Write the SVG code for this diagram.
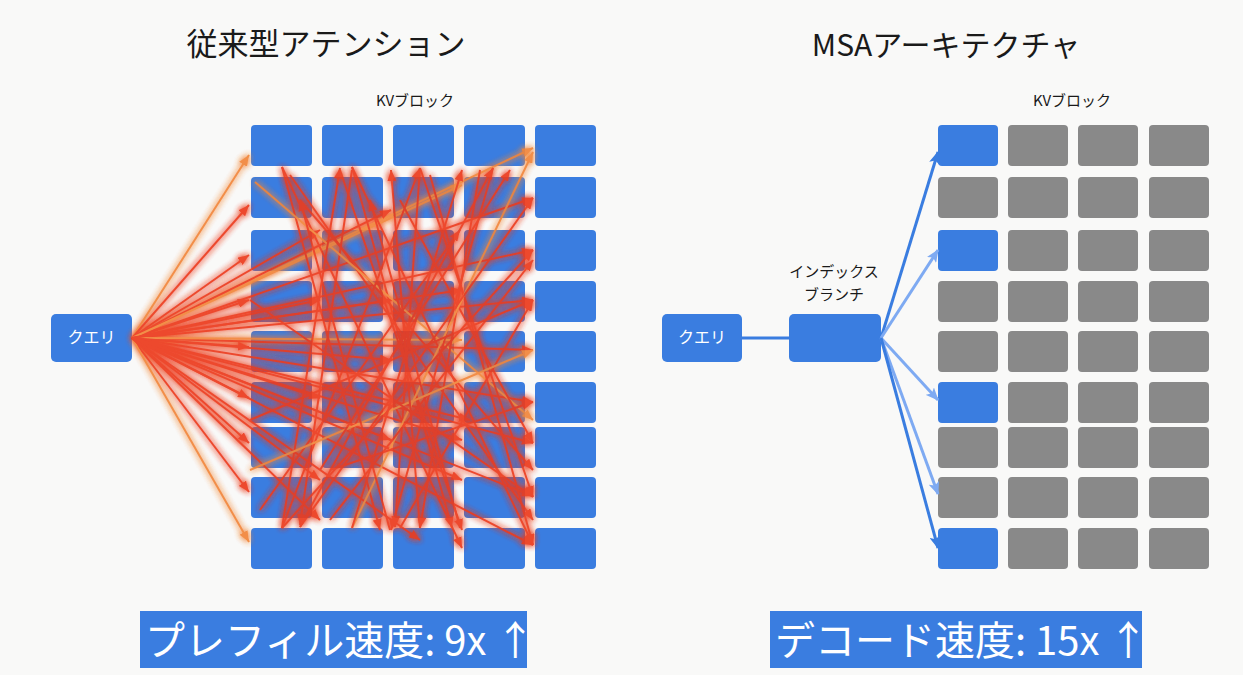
<svg xmlns="http://www.w3.org/2000/svg" width="1243" height="675" viewBox="0 0 1243 675">
<style>
.t{font-family:"Noto Sans CJK JP","Noto Sans",sans-serif;fill:#1a1a1a}
.w{font-family:"Noto Sans CJK JP","Noto Sans",sans-serif;fill:#ffffff}
.b{fill:#3a7de0}
.g{fill:#898989}
.r{stroke:#ec3b1f;stroke-width:2;fill:none;marker-end:url(#ar)}
.o{stroke:#f2863a;stroke-width:2;fill:none;marker-end:url(#ao)}
.bd{stroke:#3a7de0;stroke-width:3;fill:none;marker-end:url(#abd)}
.bl{stroke:#7eaaf2;stroke-width:3;fill:none;marker-end:url(#abl)}
</style>
<defs>
<marker id="ar" markerUnits="userSpaceOnUse" markerWidth="11" markerHeight="9" refX="11" refY="4.5" orient="auto"><path d="M0,0 L11,4.5 L0,9 z" fill="#ec3b1f"/></marker>
<marker id="ao" markerUnits="userSpaceOnUse" markerWidth="11" markerHeight="9" refX="11" refY="4.5" orient="auto"><path d="M0,0 L11,4.5 L0,9 z" fill="#f2863a"/></marker>
<marker id="abd" markerUnits="userSpaceOnUse" markerWidth="13" markerHeight="11" refX="12" refY="5.5" orient="auto"><path d="M0,0 L13,5.5 L0,11 L3,5.5 z" fill="#3a7de0"/></marker>
<marker id="abl" markerUnits="userSpaceOnUse" markerWidth="13" markerHeight="11" refX="12" refY="5.5" orient="auto"><path d="M0,0 L13,5.5 L0,11 L3,5.5 z" fill="#7eaaf2"/></marker>
<filter id="glow" x="-10%" y="-10%" width="120%" height="120%"><feGaussianBlur in="SourceGraphic" stdDeviation="3" result="bl"/><feMerge><feMergeNode in="bl"/><feMergeNode in="bl"/><feMergeNode in="SourceGraphic"/></feMerge></filter>
</defs>
<rect width="1243" height="675" fill="#f9f9f8"/>

<text class="t" x="326" y="55" font-size="31" text-anchor="middle">従来型アテンション</text>
<text class="t" x="946" y="56" font-size="30" text-anchor="middle">MSAアーキテクチャ</text>
<text class="t" x="415" y="106" font-size="15" text-anchor="middle">KVブロック</text>
<text class="t" x="1072" y="106" font-size="15" text-anchor="middle">KVブロック</text>

<g id="left-query"><rect class="b" x="51" y="314" width="81" height="48" rx="5"/><text class="w" x="91.5" y="343" font-size="16" text-anchor="middle">クエリ</text></g>

<g id="left-kv">
<g id="l-r1-c1"><rect class="b" x="251" y="125" width="61" height="41" rx="4"/></g>
<g id="l-r1-c2"><rect class="b" x="322" y="125" width="61" height="41" rx="4"/></g>
<g id="l-r1-c3"><rect class="b" x="393" y="125" width="61" height="41" rx="4"/></g>
<g id="l-r1-c4"><rect class="b" x="464" y="125" width="61" height="41" rx="4"/></g>
<g id="l-r1-c5"><rect class="b" x="535" y="125" width="61" height="41" rx="4"/></g>
<g id="l-r2-c1"><rect class="b" x="251" y="177" width="61" height="41" rx="4"/></g>
<g id="l-r2-c2"><rect class="b" x="322" y="177" width="61" height="41" rx="4"/></g>
<g id="l-r2-c3"><rect class="b" x="393" y="177" width="61" height="41" rx="4"/></g>
<g id="l-r2-c4"><rect class="b" x="464" y="177" width="61" height="41" rx="4"/></g>
<g id="l-r2-c5"><rect class="b" x="535" y="177" width="61" height="41" rx="4"/></g>
<g id="l-r3-c1"><rect class="b" x="251" y="230" width="61" height="41" rx="4"/></g>
<g id="l-r3-c2"><rect class="b" x="322" y="230" width="61" height="41" rx="4"/></g>
<g id="l-r3-c3"><rect class="b" x="393" y="230" width="61" height="41" rx="4"/></g>
<g id="l-r3-c4"><rect class="b" x="464" y="230" width="61" height="41" rx="4"/></g>
<g id="l-r3-c5"><rect class="b" x="535" y="230" width="61" height="41" rx="4"/></g>
<g id="l-r4-c1"><rect class="b" x="251" y="281" width="61" height="41" rx="4"/></g>
<g id="l-r4-c2"><rect class="b" x="322" y="281" width="61" height="41" rx="4"/></g>
<g id="l-r4-c3"><rect class="b" x="393" y="281" width="61" height="41" rx="4"/></g>
<g id="l-r4-c4"><rect class="b" x="464" y="281" width="61" height="41" rx="4"/></g>
<g id="l-r4-c5"><rect class="b" x="535" y="281" width="61" height="41" rx="4"/></g>
<g id="l-r5-c1"><rect class="b" x="251" y="331" width="61" height="41" rx="4"/></g>
<g id="l-r5-c2"><rect class="b" x="322" y="331" width="61" height="41" rx="4"/></g>
<g id="l-r5-c3"><rect class="b" x="393" y="331" width="61" height="41" rx="4"/></g>
<g id="l-r5-c4"><rect class="b" x="464" y="331" width="61" height="41" rx="4"/></g>
<g id="l-r5-c5"><rect class="b" x="535" y="331" width="61" height="41" rx="4"/></g>
<g id="l-r6-c1"><rect class="b" x="251" y="382" width="61" height="41" rx="4"/></g>
<g id="l-r6-c2"><rect class="b" x="322" y="382" width="61" height="41" rx="4"/></g>
<g id="l-r6-c3"><rect class="b" x="393" y="382" width="61" height="41" rx="4"/></g>
<g id="l-r6-c4"><rect class="b" x="464" y="382" width="61" height="41" rx="4"/></g>
<g id="l-r6-c5"><rect class="b" x="535" y="382" width="61" height="41" rx="4"/></g>
<g id="l-r7-c1"><rect class="b" x="251" y="427" width="61" height="41" rx="4"/></g>
<g id="l-r7-c2"><rect class="b" x="322" y="427" width="61" height="41" rx="4"/></g>
<g id="l-r7-c3"><rect class="b" x="393" y="427" width="61" height="41" rx="4"/></g>
<g id="l-r7-c4"><rect class="b" x="464" y="427" width="61" height="41" rx="4"/></g>
<g id="l-r7-c5"><rect class="b" x="535" y="427" width="61" height="41" rx="4"/></g>
<g id="l-r8-c1"><rect class="b" x="251" y="477" width="61" height="41" rx="4"/></g>
<g id="l-r8-c2"><rect class="b" x="322" y="477" width="61" height="41" rx="4"/></g>
<g id="l-r8-c3"><rect class="b" x="393" y="477" width="61" height="41" rx="4"/></g>
<g id="l-r8-c4"><rect class="b" x="464" y="477" width="61" height="41" rx="4"/></g>
<g id="l-r8-c5"><rect class="b" x="535" y="477" width="61" height="41" rx="4"/></g>
<g id="l-r9-c1"><rect class="b" x="251" y="528" width="61" height="41" rx="4"/></g>
<g id="l-r9-c2"><rect class="b" x="322" y="528" width="61" height="41" rx="4"/></g>
<g id="l-r9-c3"><rect class="b" x="393" y="528" width="61" height="41" rx="4"/></g>
<g id="l-r9-c4"><rect class="b" x="464" y="528" width="61" height="41" rx="4"/></g>
<g id="l-r9-c5"><rect class="b" x="535" y="528" width="61" height="41" rx="4"/></g>
</g>

<g id="left-connectors" filter="url(#glow)" opacity="0.92">
<line class="o" x1="132" y1="338" x2="249" y2="155"/>
<line class="r" x1="132" y1="338" x2="249" y2="205"/>
<line class="r" x1="132" y1="338" x2="249" y2="255"/>
<line class="r" x1="132" y1="338" x2="249" y2="300"/>
<line class="r" x1="132" y1="338" x2="249" y2="347"/>
<line class="r" x1="132" y1="338" x2="249" y2="398"/>
<line class="r" x1="132" y1="338" x2="249" y2="443"/>
<line class="r" x1="132" y1="338" x2="249" y2="492"/>
<line class="o" x1="132" y1="338" x2="249" y2="542"/>
<line class="o" x1="132" y1="338" x2="533" y2="148"/>
<line class="r" x1="132" y1="338" x2="533" y2="198"/>
<line class="r" x1="132" y1="338" x2="533" y2="250"/>
<line class="r" x1="132" y1="338" x2="533" y2="300"/>
<line class="r" x1="132" y1="338" x2="533" y2="350"/>
<line class="r" x1="132" y1="338" x2="533" y2="402"/>
<line class="r" x1="132" y1="338" x2="533" y2="443"/>
<line class="r" x1="132" y1="338" x2="533" y2="496"/>
<line class="r" x1="132" y1="338" x2="533" y2="545"/>
<line class="r" x1="132" y1="338" x2="320" y2="230"/>
<line class="r" x1="132" y1="338" x2="391" y2="210"/>
<line class="o" x1="132" y1="338" x2="462" y2="185"/>
<line class="r" x1="132" y1="338" x2="320" y2="398"/>
<line class="r" x1="132" y1="338" x2="391" y2="440"/>
<line class="r" x1="132" y1="338" x2="462" y2="480"/>
<line class="r" x1="132" y1="338" x2="320" y2="480"/>
<line class="r" x1="132" y1="338" x2="391" y2="300"/>
<line class="o" x1="132" y1="338" x2="462" y2="340"/>
<line class="r" x1="132" y1="338" x2="420" y2="540"/>
<line class="r" x1="132" y1="338" x2="470" y2="420"/>
<line class="r" x1="132" y1="338" x2="462" y2="290"/>
<line class="r" x1="132" y1="338" x2="391" y2="360"/>
<line class="r" x1="132" y1="338" x2="320" y2="300"/>
<line class="r" x1="132" y1="338" x2="462" y2="440"/>
<line class="r" x1="132" y1="338" x2="320" y2="520"/>
<line class="r" x1="282" y1="167" x2="380" y2="530"/>
<line class="r" x1="282" y1="167" x2="462" y2="548"/>
<line class="r" x1="352" y1="167" x2="452" y2="528"/>
<line class="r" x1="352" y1="170" x2="300" y2="525"/>
<line class="r" x1="290" y1="175" x2="533" y2="520"/>
<line class="r" x1="420" y1="168" x2="395" y2="527"/>
<line class="r" x1="300" y1="200" x2="533" y2="470"/>
<line class="o" x1="255" y1="182" x2="533" y2="420"/>
<line class="r" x1="480" y1="170" x2="420" y2="528"/>
<line class="r" x1="352" y1="167" x2="533" y2="545"/>
<line class="r" x1="420" y1="168" x2="533" y2="497"/>
<line class="r" x1="493" y1="168" x2="391" y2="530"/>
<line class="r" x1="340" y1="170" x2="462" y2="530"/>
<line class="r" x1="400" y1="200" x2="533" y2="443"/>
<line class="r" x1="430" y1="175" x2="533" y2="545"/>
<line class="r" x1="282" y1="528" x2="340" y2="168"/>
<line class="r" x1="282" y1="528" x2="420" y2="168"/>
<line class="r" x1="300" y1="527" x2="493" y2="168"/>
<line class="o" x1="352" y1="528" x2="533" y2="152"/>
<line class="r" x1="330" y1="520" x2="533" y2="260"/>
<line class="r" x1="260" y1="510" x2="460" y2="230"/>
<line class="r" x1="400" y1="528" x2="533" y2="300"/>
<line class="r" x1="460" y1="528" x2="370" y2="200"/>
<line class="o" x1="250" y1="470" x2="533" y2="350"/>
<line class="r" x1="320" y1="470" x2="510" y2="170"/>
<line class="r" x1="250" y1="300" x2="533" y2="497"/>
<line class="r" x1="300" y1="527" x2="533" y2="198"/>
<line class="r" x1="282" y1="528" x2="533" y2="250"/>
<line class="r" x1="352" y1="528" x2="462" y2="170"/>
<line class="r" x1="420" y1="528" x2="391" y2="170"/>
<line class="r" x1="250" y1="420" x2="533" y2="300"/>
<line class="r" x1="330" y1="470" x2="533" y2="402"/>
<line class="r" x1="390" y1="530" x2="300" y2="200"/>
</g>

<g id="right-query"><rect class="b" x="662" y="314" width="80" height="48" rx="5"/><text class="w" x="702" y="343" font-size="16" text-anchor="middle">クエリ</text></g>
<g id="index-branch"><rect class="b" x="789" y="314" width="92" height="48" rx="5"/><text class="t" x="834" y="277" font-size="15" text-anchor="middle">インデックス</text><text class="t" x="834" y="300" font-size="15" text-anchor="middle">ブランチ</text></g>

<g id="right-kv">
<g id="r-r1-c1"><rect class="b" x="938" y="125" width="60" height="41" rx="4"/></g>
<g id="r-r1-c2"><rect class="g" x="1008" y="125" width="60" height="41" rx="4"/></g>
<g id="r-r1-c3"><rect class="g" x="1078" y="125" width="60" height="41" rx="4"/></g>
<g id="r-r1-c4"><rect class="g" x="1149" y="125" width="60" height="41" rx="4"/></g>
<g id="r-r2-c1"><rect class="g" x="938" y="177" width="60" height="41" rx="4"/></g>
<g id="r-r2-c2"><rect class="g" x="1008" y="177" width="60" height="41" rx="4"/></g>
<g id="r-r2-c3"><rect class="g" x="1078" y="177" width="60" height="41" rx="4"/></g>
<g id="r-r2-c4"><rect class="g" x="1149" y="177" width="60" height="41" rx="4"/></g>
<g id="r-r3-c1"><rect class="b" x="938" y="230" width="60" height="41" rx="4"/></g>
<g id="r-r3-c2"><rect class="g" x="1008" y="230" width="60" height="41" rx="4"/></g>
<g id="r-r3-c3"><rect class="g" x="1078" y="230" width="60" height="41" rx="4"/></g>
<g id="r-r3-c4"><rect class="g" x="1149" y="230" width="60" height="41" rx="4"/></g>
<g id="r-r4-c1"><rect class="g" x="938" y="281" width="60" height="41" rx="4"/></g>
<g id="r-r4-c2"><rect class="g" x="1008" y="281" width="60" height="41" rx="4"/></g>
<g id="r-r4-c3"><rect class="g" x="1078" y="281" width="60" height="41" rx="4"/></g>
<g id="r-r4-c4"><rect class="g" x="1149" y="281" width="60" height="41" rx="4"/></g>
<g id="r-r5-c1"><rect class="g" x="938" y="331" width="60" height="41" rx="4"/></g>
<g id="r-r5-c2"><rect class="g" x="1008" y="331" width="60" height="41" rx="4"/></g>
<g id="r-r5-c3"><rect class="g" x="1078" y="331" width="60" height="41" rx="4"/></g>
<g id="r-r5-c4"><rect class="g" x="1149" y="331" width="60" height="41" rx="4"/></g>
<g id="r-r6-c1"><rect class="b" x="938" y="382" width="60" height="41" rx="4"/></g>
<g id="r-r6-c2"><rect class="g" x="1008" y="382" width="60" height="41" rx="4"/></g>
<g id="r-r6-c3"><rect class="g" x="1078" y="382" width="60" height="41" rx="4"/></g>
<g id="r-r6-c4"><rect class="g" x="1149" y="382" width="60" height="41" rx="4"/></g>
<g id="r-r7-c1"><rect class="g" x="938" y="427" width="60" height="41" rx="4"/></g>
<g id="r-r7-c2"><rect class="g" x="1008" y="427" width="60" height="41" rx="4"/></g>
<g id="r-r7-c3"><rect class="g" x="1078" y="427" width="60" height="41" rx="4"/></g>
<g id="r-r7-c4"><rect class="g" x="1149" y="427" width="60" height="41" rx="4"/></g>
<g id="r-r8-c1"><rect class="g" x="938" y="477" width="60" height="41" rx="4"/></g>
<g id="r-r8-c2"><rect class="g" x="1008" y="477" width="60" height="41" rx="4"/></g>
<g id="r-r8-c3"><rect class="g" x="1078" y="477" width="60" height="41" rx="4"/></g>
<g id="r-r8-c4"><rect class="g" x="1149" y="477" width="60" height="41" rx="4"/></g>
<g id="r-r9-c1"><rect class="b" x="938" y="528" width="60" height="41" rx="4"/></g>
<g id="r-r9-c2"><rect class="g" x="1008" y="528" width="60" height="41" rx="4"/></g>
<g id="r-r9-c3"><rect class="g" x="1078" y="528" width="60" height="41" rx="4"/></g>
<g id="r-r9-c4"><rect class="g" x="1149" y="528" width="60" height="41" rx="4"/></g>
</g>

<g id="right-connectors">
<line x1="742" y1="338" x2="789" y2="338" stroke="#3a7de0" stroke-width="3"/>
<line class="bd" x1="881" y1="338" x2="938" y2="152"/>
<line class="bl" x1="881" y1="338" x2="938" y2="250"/>
<line class="bl" x1="881" y1="338" x2="938" y2="400"/>
<line class="bl" x1="881" y1="338" x2="938" y2="494"/>
<line class="bd" x1="881" y1="338" x2="938" y2="548"/>
</g>

<g id="speed-left"><rect class="b" x="140" y="611" width="387" height="57"/><text class="w" x="145" y="655" font-size="40">プレフィル速度: 9x ↑</text></g>
<g id="speed-right"><rect class="b" x="770" y="611" width="372" height="57"/><text class="w" x="775" y="655" font-size="40">デコード速度: 15x ↑</text></g>
</svg>
